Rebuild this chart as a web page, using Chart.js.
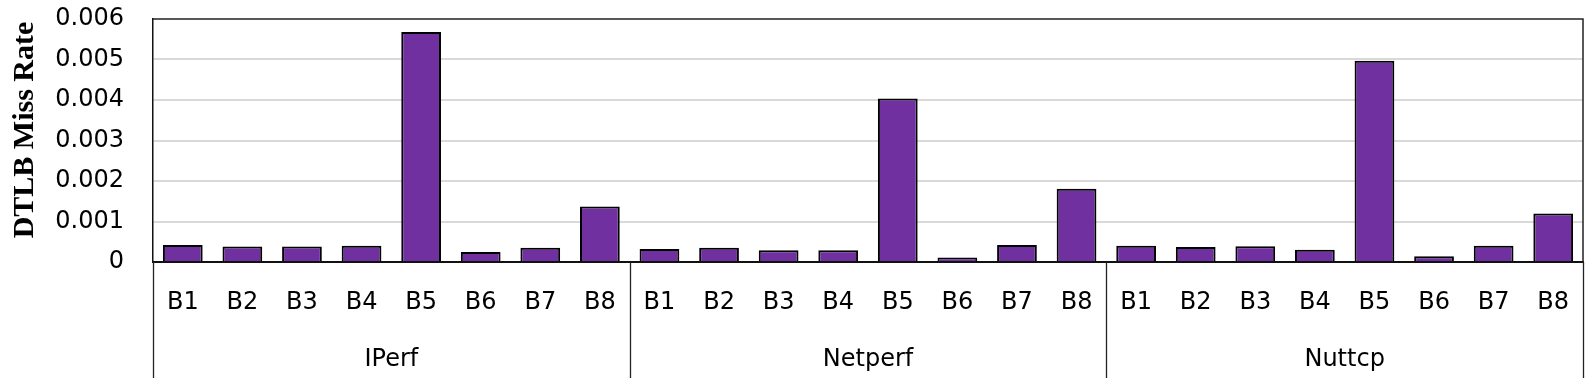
<!DOCTYPE html>
<html>
<head>
<meta charset="utf-8">
<script src="https://cdn.jsdelivr.net/npm/chart.js@4/dist/chart.umd.min.js"></script>
<style>
  html, body { margin: 0; padding: 0; background: #fff; }
  #wrap { width: 1594px; height: 386px; position: relative; }
</style>
</head>
<body>
<div id="wrap"><canvas id="dtlbChart"></canvas></div>
<script>
// DTLB miss rate per benchmark, grouped by tool
const groups = ['IPerf', 'Netperf', 'Nuttcp'];
const benches = ['B1', 'B2', 'B3', 'B4', 'B5', 'B6', 'B7', 'B8'];
const iperfRates   = [0.00042, 0.00038, 0.00038, 0.00040, 0.00568, 0.00025, 0.00035, 0.00137];
const netperfRates = [0.00032, 0.00035, 0.00029, 0.00029, 0.00404, 0.00011, 0.00042, 0.00181];
const nuttcpRates  = [0.00040, 0.00037, 0.00039, 0.00030, 0.00497, 0.00014, 0.00040, 0.00120];
const yTicks = [0, 0.001, 0.002, 0.003, 0.004, 0.005, 0.006];
const yTitle = 'DTLB Miss Rate';

const labels = [];
groups.forEach(() => benches.forEach(b => labels.push(b)));
const values = [].concat(iperfRates, netperfRates, nuttcpRates);

const PURPLE = '#7030a0';

const groupPlugin = {
  id: 'groupLabels',
  afterDraw(chart) {
    const { ctx, chartArea: a, scales: { x } } = chart;
    const lineBottom = 378;
    ctx.save();

    // top & right frame of the plot area
    ctx.strokeStyle = '#222';
    ctx.lineWidth = 1.5;
    ctx.beginPath();
    ctx.moveTo(a.left, a.top);
    ctx.lineTo(a.right, a.top);
    ctx.lineTo(a.right, a.bottom);
    ctx.stroke();

    // category level dividers, running below the axis
    const per = benches.length;
    const xs = [a.left];
    for (let g = 1; g < groups.length; g++) {
      xs.push((x.getPixelForValue(g * per - 1) + x.getPixelForValue(g * per)) / 2);
    }
    xs.push(a.right);
    ctx.lineWidth = 1.3;
    ctx.strokeStyle = '#222';
    xs.forEach(px => {
      ctx.beginPath();
      ctx.moveTo(Math.round(px) + 0.5, a.bottom);
      ctx.lineTo(Math.round(px) + 0.5, lineBottom);
      ctx.stroke();
    });

    // group names
    ctx.fillStyle = '#000';
    ctx.font = '24px "DejaVu Sans"';
    ctx.textAlign = 'center';
    ctx.textBaseline = 'alphabetic';
    groups.forEach((g, i) => {
      ctx.fillText(g, (xs[i] + xs[i + 1]) / 2, 366);
    });

    // y title
    ctx.translate(33, 130);
    ctx.rotate(-Math.PI / 2);
    ctx.font = 'bold 30px "Liberation Serif"';
    ctx.fillText(yTitle, 0, 0);
    ctx.restore();
  }
};

new Chart(document.getElementById('dtlbChart'), {
  type: 'bar',
  data: {
    labels: labels,
    datasets: [{
      data: values,
      backgroundColor: PURPLE,
      borderColor: '#000',
      borderWidth: 2,
      barPercentage: 0.667,
      categoryPercentage: 1.0,
    }],
  },
  options: {
    responsive: true,
    maintainAspectRatio: false,
    animation: false,
    layout: { padding: { top: 19, right: 11, left: 0, bottom: 0 } },
    plugins: {
      legend: { display: false },
      tooltip: { enabled: false },
    },
    scales: {
      x: {
        grid: { display: false, drawTicks: false },
        border: { display: true, color: '#111', width: 2 },
        ticks: {
          color: '#000',
          font: { family: 'DejaVu Sans', size: 24 },
          padding: 26,
          maxRotation: 0,
          autoSkip: false,
        },
        afterFit: s => { s.height = 124; s.paddingLeft = 0; s.paddingRight = 0; },
      },
      y: {
        min: 0,
        max: 0.006,
        afterBuildTicks: s => { s.ticks = yTicks.map(v => ({ value: v })); },
        grid: {
          color: c => (c.tick.value === 0 || c.tick.value === 0.006) ? 'rgba(0,0,0,0)' : '#d9d9d9',
          lineWidth: 2,
          drawTicks: false,
        },
        border: { display: true, color: '#111', width: 1.5 },
        ticks: {
          color: '#000',
          font: { family: 'DejaVu Sans', size: 24 },
          padding: 29,
          callback: v => v === 0 ? '0' : v.toFixed(3),
        },
        afterFit: s => { s.width = 153; s.paddingTop = 0; s.paddingBottom = 0; },
      },
    },
  },
  plugins: [groupPlugin],
});
</script>
</body>
</html>
